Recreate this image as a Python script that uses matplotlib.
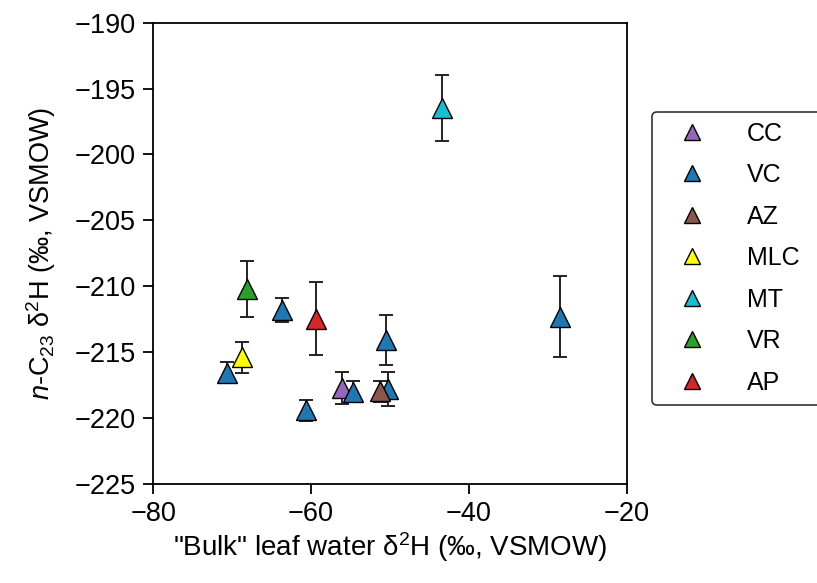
import matplotlib
matplotlib.use("Agg")
import matplotlib.pyplot as plt

# fonts
plt.rcParams['font.family'] = ['Liberation Sans', 'DejaVu Sans']
plt.rcParams['mathtext.fontset'] = 'custom'
plt.rcParams['mathtext.rm'] = 'Liberation Sans'
plt.rcParams['mathtext.it'] = 'Liberation Sans:italic'

# data: bulk leaf water d2H (x), n-C23 d2H (y), error (yerr)
sites = ["CC", "VC", "AZ", "MLC", "MT", "VR", "AP"]
colors = ["#9467bd", "#1f77b4", "#8c564b", "#ffff00", "#17becf", "#2ca02c", "#d62728"]

cc_x = [-56.1]
cc_y = [-217.7]
cc_err = [1.2]

vc_x = [-70.6, -63.7, -60.6, -54.7, -50.55, -50.2, -28.45]
vc_y = [-216.55, -211.8, -219.4, -218.0, -214.1, -217.8, -212.3]
vc_err = [0.8, 0.9, 0.8, 0.8, 1.9, 1.3, 3.05]

az_x = [-51.3]
az_y = [-217.95]
az_err = [0.8]

mlc_x = [-68.8]
mlc_y = [-215.4]
mlc_err = [1.2]

mt_x = [-43.45]
mt_y = [-196.5]
mt_err = [2.5]

vr_x = [-68.15]
vr_y = [-210.2]
vr_err = [2.15]

ap_x = [-59.4]
ap_y = [-212.45]
ap_err = [2.75]

xs = [cc_x, vc_x, az_x, mlc_x, mt_x, vr_x, ap_x]
ys = [cc_y, vc_y, az_y, mlc_y, mt_y, vr_y, ap_y]
errs = [cc_err, vc_err, az_err, mlc_err, mt_err, vr_err, ap_err]

fig = plt.figure(figsize=(8.17, 5.83), dpi=100)
ax = fig.add_axes([0.1876, 0.1698, 0.5794, 0.7913])

for name, c, x, y, e in zip(sites, colors, xs, ys, errs):
    ax.errorbar(x, y, yerr=e, fmt='none', ecolor='#222222', elinewidth=1.4,
                capsize=4.7, capthick=1.4, zorder=2)
    ax.plot(x, y, linestyle='none', marker='^', ms=15, mfc=c, mec='black',
            mew=1.0, label=name, zorder=3)

ax.set_xlim(-80, -20)
ax.set_ylim(-225, -190)
ax.set_xticks([-80, -60, -40, -20])
ax.set_yticks(range(-225, -189, 5))
ax.tick_params(direction='out', length=7.5, width=1.3, labelsize=19.5, pad=5)
for s in ax.spines.values():
    s.set_linewidth(1.3)

ax.set_xlabel('"Bulk" leaf water δ$^{2}$H (‰, VSMOW)', fontsize=20, labelpad=2)
ax.set_ylabel('$\\it{n}$-C$_{23}$ δ$^{2}$H (‰, VSMOW)', fontsize=19.5, labelpad=12)

leg = ax.legend(loc='upper left', bbox_to_anchor=(1.053, 0.15, 0.4, 0.657),
                mode='expand', borderaxespad=0, fontsize=18, markerscale=0.75,
                handlelength=2.4, handletextpad=1.0, labelspacing=0.7,
                borderpad=0.4, fancybox=True, framealpha=1)
leg.get_frame().set_edgecolor('#333333')
leg.get_frame().set_linewidth(1.2)

fig.savefig("out.png", dpi=100)
